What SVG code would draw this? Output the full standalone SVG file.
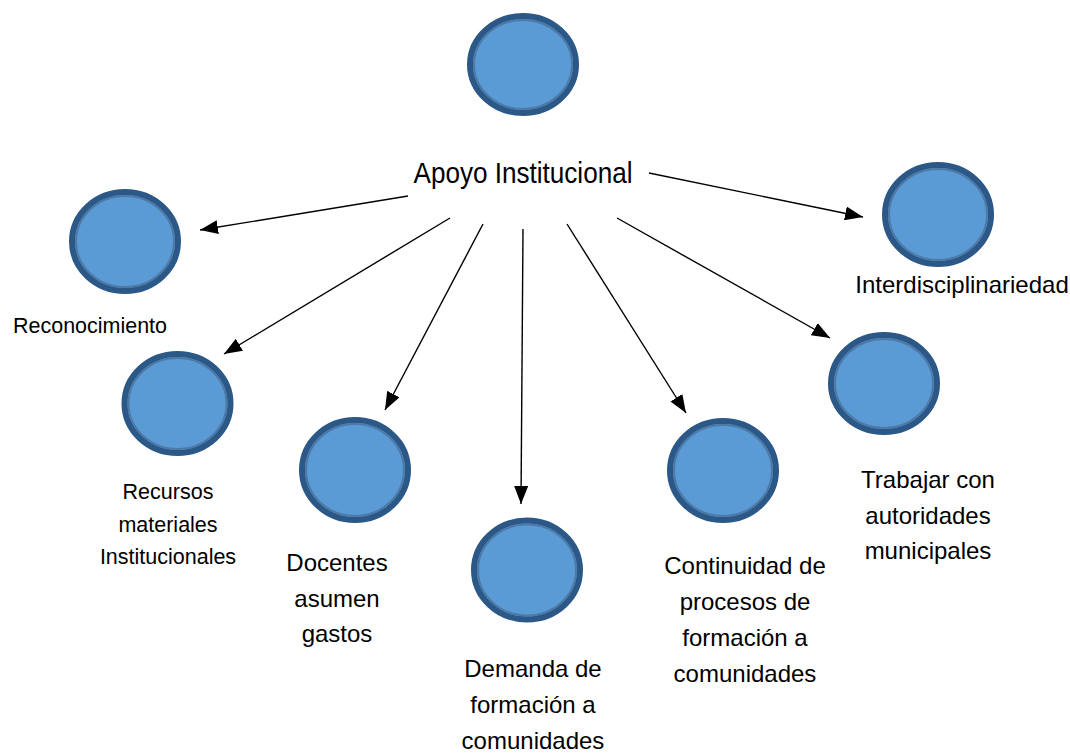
<svg xmlns="http://www.w3.org/2000/svg" width="1070" height="754" viewBox="0 0 1070 754">
<defs>
<style>
.c{fill:#5b9bd5;stroke:#2b5886;stroke-width:6}
.ci{fill:none;stroke:#4d79a6;stroke-width:2}
.t{font-family:"Liberation Sans",Arial,sans-serif;font-size:24px;fill:#000;text-anchor:middle}
.e{stroke:#000;stroke-width:1.4;fill:none;marker-end:url(#ah)}
</style>
<marker id="ah" markerUnits="userSpaceOnUse" markerWidth="20" markerHeight="14" refX="18" refY="7" orient="auto">
<path d="M0,0 L18,7 L0,14 Z" fill="#000"/>
</marker>
</defs>
<rect width="1070" height="754" fill="#fff"/>
<g id="connectors">
<line class="e" x1="408" y1="196" x2="200" y2="230"/>
<line class="e" x1="450" y1="218" x2="224" y2="354"/>
<line class="e" x1="483" y1="224" x2="385" y2="410"/>
<line class="e" x1="523" y1="229" x2="521" y2="504"/>
<line class="e" x1="567" y1="224" x2="686" y2="413"/>
<line class="e" x1="617" y1="218" x2="830" y2="338"/>
<line class="e" x1="649" y1="173" x2="863" y2="217"/>
</g>
<g id="n-top">
<ellipse class="c" cx="523" cy="64.5" rx="53" ry="48.5"/>
<ellipse class="ci" cx="523" cy="64.5" rx="49" ry="44.5"/>
<text class="t" x="523" y="183" textLength="219" lengthAdjust="spacingAndGlyphs" style="font-size:30px">Apoyo Institucional</text>
</g>
<g id="n-reconocimiento">
<ellipse class="c" cx="125" cy="241.5" rx="53" ry="49.5"/>
<ellipse class="ci" cx="125" cy="241.5" rx="49" ry="45.5"/>
<text class="t" x="90" y="333" textLength="154" lengthAdjust="spacingAndGlyphs" style="font-size:21.5px">Reconocimiento</text>
</g>
<g id="n-recursos">
<ellipse class="c" cx="177.5" cy="403.5" rx="53" ry="49.5"/>
<ellipse class="ci" cx="177.5" cy="403.5" rx="49" ry="45.5"/>
<text class="t" style="font-size:21.5px"><tspan x="168" y="499">Recursos</tspan><tspan x="168" y="532">materiales</tspan><tspan x="168" y="564">Institucionales</tspan></text>
</g>
<g id="n-docentes">
<ellipse class="c" cx="355" cy="470" rx="53" ry="50"/>
<ellipse class="ci" cx="355" cy="470" rx="49" ry="46"/>
<text class="t"><tspan x="337" y="571">Docentes</tspan><tspan x="337" y="607">asumen</tspan><tspan x="337" y="642">gastos</tspan></text>
</g>
<g id="n-demanda">
<ellipse class="c" cx="527" cy="570" rx="53" ry="49.5"/>
<ellipse class="ci" cx="527" cy="570" rx="49" ry="45.5"/>
<text class="t"><tspan x="533" y="677">Demanda de</tspan><tspan x="533" y="713">formación a</tspan><tspan x="533" y="749">comunidades</tspan></text>
</g>
<g id="n-continuidad">
<ellipse class="c" cx="723" cy="470.5" rx="53" ry="49.5"/>
<ellipse class="ci" cx="723" cy="470.5" rx="49" ry="45.5"/>
<text class="t"><tspan x="745" y="574">Continuidad de</tspan><tspan x="745" y="610">procesos de</tspan><tspan x="745" y="646">formación a</tspan><tspan x="745" y="682">comunidades</tspan></text>
</g>
<g id="n-trabajar">
<ellipse class="c" cx="884" cy="383.5" rx="53" ry="48.5"/>
<ellipse class="ci" cx="884" cy="383.5" rx="49" ry="44.5"/>
<text class="t"><tspan x="928" y="488">Trabajar con</tspan><tspan x="928" y="524">autoridades</tspan><tspan x="928" y="559">municipales</tspan></text>
</g>
<g id="n-interdisciplinariedad">
<ellipse class="c" cx="938" cy="214.5" rx="53" ry="49.5"/>
<ellipse class="ci" cx="938" cy="214.5" rx="49" ry="45.5"/>
<text class="t" x="962" y="293">Interdisciplinariedad</text>
</g>
</svg>
